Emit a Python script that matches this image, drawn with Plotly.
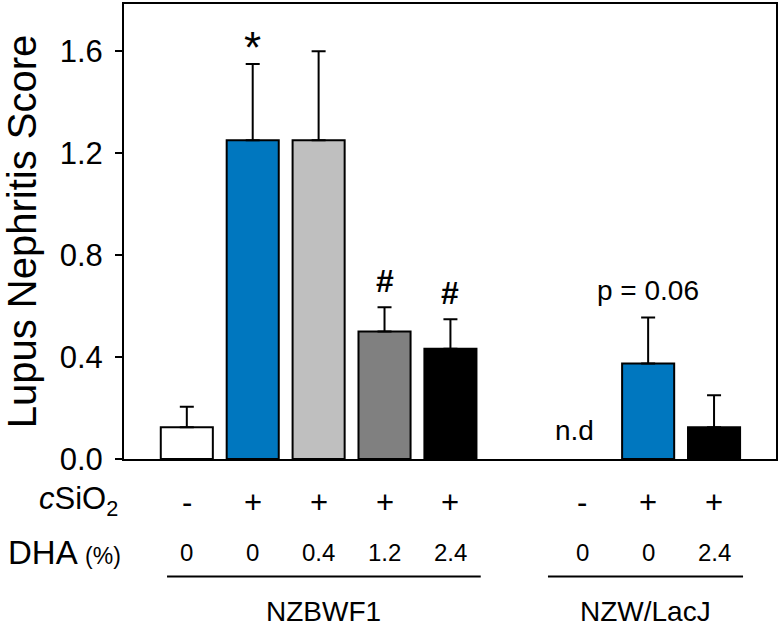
import plotly.graph_objects as go

# ---- data ----
slots = [0, 1, 2, 3, 4, 6, 7, 8]
scores = [0.125, 1.25, 1.25, 0.50, 0.433, None, 0.375, 0.125]
errors = [0.08, 0.30, 0.35, 0.095, 0.115, None, 0.18, 0.125]
colors = ["#ffffff", "#0077bf", "#bfbfbf", "#808080", "#000000", None, "#0077bf", "#000000"]
csio2 = ["-", "+", "+", "+", "+", "-", "+", "+"]
dha = ["0", "0", "0.4", "1.2", "2.4", "0", "0", "2.4"]
marks = ["", "*", "", "#", "#", "n.d", "p = 0.06", ""]
groups = ["NZBWF1", "NZW/LacJ"]
group_spans = [(-0.30, 4.46), (5.48, 8.44)]
yticks = [0.0, 0.4, 0.8, 1.2, 1.6]

FONT = "Liberation Sans, Arial, sans-serif"

bx = [s for s, v in zip(slots, scores) if v is not None]
by = [v for v in scores if v is not None]
be = [e for e in errors if e is not None]
bc = [c for c in colors if c is not None]

fig = go.Figure()
fig.add_trace(go.Bar(
    x=bx, y=by, width=0.79,
    marker=dict(color=bc, line=dict(color="black", width=2)),
    error_y=dict(type="data", array=be, arrayminus=[0] * len(be), symmetric=False,
                 color="black", thickness=2, width=7),
    showlegend=False, hoverinfo="skip",
))

H_PLOT = 457  # pixel height of plot area
def py(p):
    # pixel row (from top of figure) -> paper y
    return (459 - p) / H_PLOT

ann = []
for s, v, e, m in zip(slots, scores, errors, marks):
    if not m:
        continue
    if m == "n.d":
        ann.append(dict(x=s - 0.12, y=0.11, xref="x", yref="y", text=m, showarrow=False,
                        yanchor="middle", font=dict(size=28, family=FONT, color="black")))
    elif m == "*":
        ann.append(dict(x=s, y=v + e, xref="x", yref="y", text=m, showarrow=False,
                        yanchor="bottom", yshift=-10, font=dict(size=44, family=FONT, color="black")))
    elif m == "#":
        ann.append(dict(x=s, y=v + e, xref="x", yref="y", text="<b>#</b>", showarrow=False,
                        yanchor="bottom", yshift=6, font=dict(size=32, family=FONT, color="black")))
    else:
        ann.append(dict(x=s, y=v + e, xref="x", yref="y", text=m, showarrow=False,
                        yanchor="bottom", yshift=10, font=dict(size=28, family=FONT, color="black")))

for s, c, d in zip(slots, csio2, dha):
    ann.append(dict(x=s, y=py(503), xref="x", yref="paper", text=c, showarrow=False,
                    yanchor="middle", font=dict(size=31, family=FONT, color="black")))
    ann.append(dict(x=s, y=py(553), xref="x", yref="paper", text=d, showarrow=False,
                    yanchor="middle", font=dict(size=24, family=FONT, color="black")))

ann.append(dict(x=0, y=py(503), xref="paper", yref="paper", text="<i>c</i>SiO<sub>2</sub>",
                showarrow=False, xanchor="right", yanchor="middle", xshift=-4, yshift=2,
                font=dict(size=31, family=FONT, color="black")))
ann.append(dict(x=0, y=py(553), xref="paper", yref="paper",
                text="DHA <span style='font-size:23px'>(%)</span>",
                showarrow=False, xanchor="right", yanchor="middle", xshift=-1,
                font=dict(size=33, family=FONT, color="black")))

shapes = []
for g, (a, b) in zip(groups, group_spans):
    shapes.append(dict(type="line", xref="x", yref="paper", x0=a, x1=b, y0=py(577), y1=py(577),
                       line=dict(color="black", width=2)))
    ann.append(dict(x=(a + b) / 2, y=py(612), xref="x", yref="paper", text=g, showarrow=False,
                    yanchor="middle", font=dict(size=28, family=FONT, color="black")))

fig.update_layout(
    width=780, height=628,
    margin=dict(l=124, r=2, t=2, b=169),
    paper_bgcolor="white", plot_bgcolor="white",
    font=dict(family=FONT, color="black"),
    annotations=ann, shapes=shapes, bargap=0.2,
    xaxis=dict(range=[-0.953, 8.94], showticklabels=False, ticks="", showgrid=False,
               zeroline=False, showline=True, linecolor="black", linewidth=2, mirror=True),
    yaxis=dict(range=[0, 1.785], tickvals=yticks, ticktext=[f"{t:.1f}" for t in yticks],
               ticks="outside", ticklen=7, tickwidth=2, tickcolor="black",
               ticklabelstandoff=6,
               tickfont=dict(size=31, family=FONT, color="black"),
               showgrid=False, zeroline=False, showline=True, linecolor="black", linewidth=2,
               mirror=True,
               title=dict(text="Lupus Nephritis Score", font=dict(size=40, family=FONT, color="black"),
                          standoff=22)),
)

fig.write_html("out.html", config={"displayModeBar": False},
               post_script="document.body.style.margin='0';document.body.style.overflow='hidden';")
